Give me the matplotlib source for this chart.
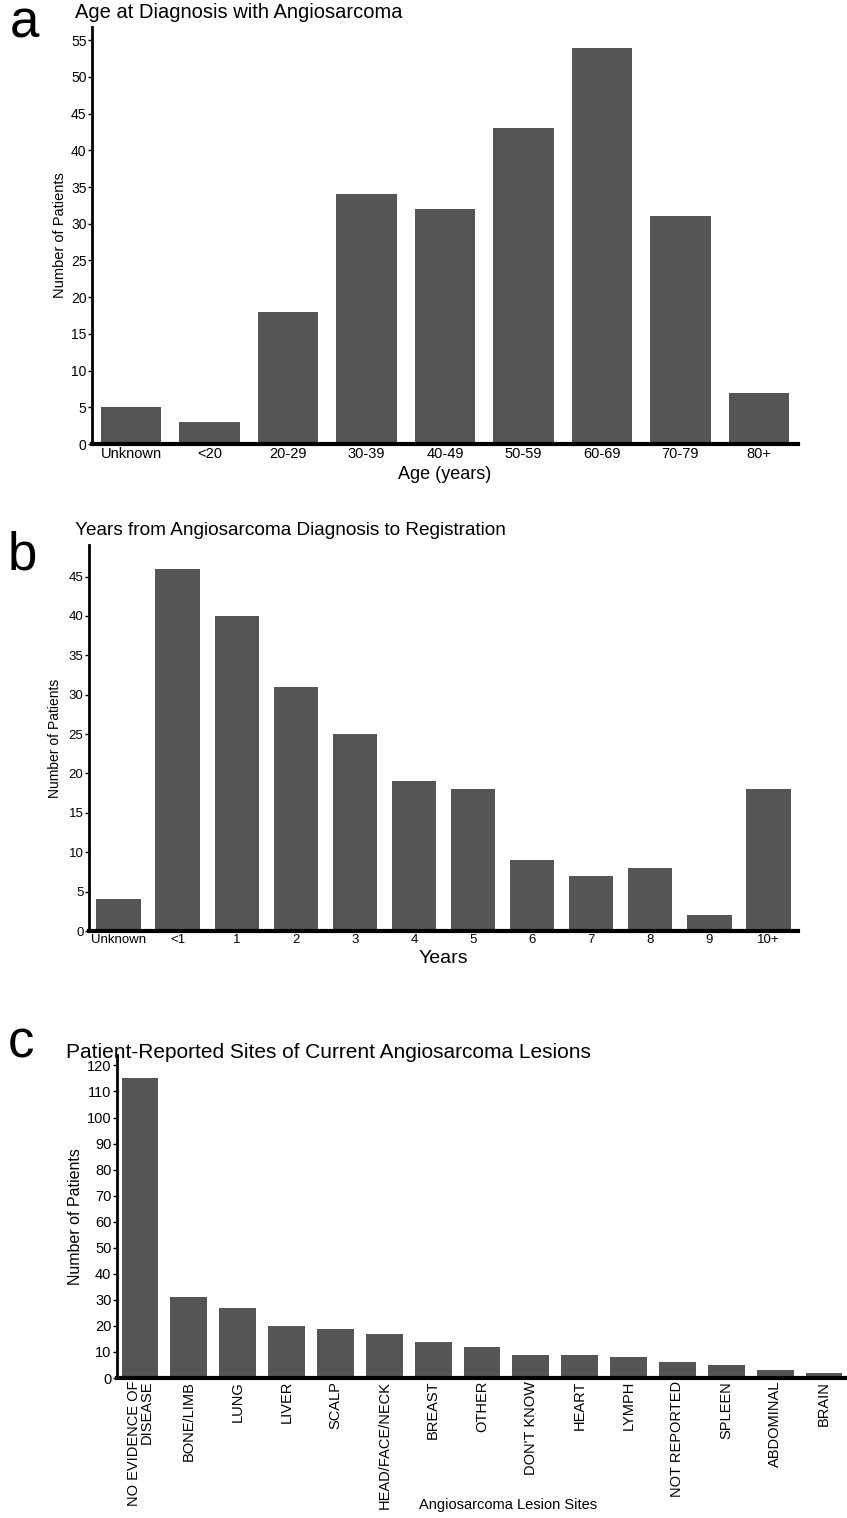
import matplotlib
matplotlib.use("Agg")
import matplotlib.pyplot as plt

plt.rcParams['font.family'] = ['Liberation Sans', 'DejaVu Sans']

age_groups = ['Unknown', '<20', '20-29', '30-39', '40-49', '50-59', '60-69', '70-79', '80+']
age_counts = [5, 3, 18, 34, 32, 43, 54, 31, 7]

year_groups = ['Unknown', '<1', '1', '2', '3', '4', '5', '6', '7', '8', '9', '10+']
year_counts = [4, 46, 40, 31, 25, 19, 18, 9, 7, 8, 2, 18]

sites = ['NO EVIDENCE OF\nDISEASE', 'BONE/LIMB', 'LUNG', 'LIVER', 'SCALP', 'HEAD/FACE/NECK',
         'BREAST', 'OTHER', "DON'T KNOW", 'HEART', 'LYMPH', 'NOT REPORTED', 'SPLEEN',
         'ABDOMINAL', 'BRAIN']
site_counts = [115, 31, 27, 20, 19, 17, 14, 12, 9, 9, 8, 6, 5, 3, 2]

W, H = 847, 1518
fig = plt.figure(figsize=(W / 100, H / 100), dpi=100)
bar_color = '#555555'


def box(x0, y0, x1, y1):
    # pixel box (top-left origin) -> figure fraction rect
    return [x0 / W, 1 - y1 / H, (x1 - x0) / W, (y1 - y0) / H]


def style(ax, ysize):
    for s in ['top', 'right']:
        ax.spines[s].set_visible(False)
    ax.spines['left'].set_linewidth(2)
    ax.spines['bottom'].set_linewidth(3)
    ax.tick_params(axis='y', length=3, width=1, pad=1, labelsize=ysize, colors='black')
    ax.tick_params(axis='x', length=0, pad=2)


# panel a
ax1 = fig.add_axes(box(92, 27, 798, 444))
ax1.bar(range(len(age_groups)), age_counts, width=0.77, color=bar_color)
ax1.set_xlim(-0.5, len(age_groups) - 0.5)
ax1.set_ylim(0, 56.8)
ax1.set_yticks(range(0, 56, 5))
ax1.set_xticks(range(len(age_groups)))
ax1.set_xticklabels(age_groups, fontsize=10.5)
ax1.set_xlabel('Age (years)', fontsize=13, labelpad=4)
ax1.set_ylabel('Number of Patients', fontsize=10.5, labelpad=3)
style(ax1, 10)

# panel b
ax2 = fig.add_axes(box(89, 545, 798, 931))
ax2.bar(range(len(year_groups)), year_counts, width=0.75, color=bar_color)
ax2.set_xlim(-0.5, len(year_groups) - 0.5)
ax2.set_ylim(0, 49)
ax2.set_yticks(range(0, 46, 5))
ax2.set_xticks(range(len(year_groups)))
ax2.set_xticklabels(year_groups, fontsize=9.5)
ax2.set_xlabel('Years', fontsize=14, labelpad=3)
ax2.set_ylabel('Number of Patients', fontsize=10, labelpad=5)
style(ax2, 9.5)

# panel c
ax3 = fig.add_axes(box(117, 1055, 847, 1378))
ax3.bar(range(len(sites)), site_counts, width=0.755, color=bar_color)
ax3.set_xlim(-0.47, len(sites) - 0.53)
ax3.set_ylim(0, 124)
ax3.set_yticks(range(0, 121, 10))
ax3.set_xticks(range(len(sites)))
ax3.set_xticklabels(sites, fontsize=10.5, rotation=90, va='top', ha='center',
                    multialignment='right', linespacing=0.9)
ax3.set_xlabel('Angiosarcoma Lesion Sites', fontsize=10.5)
ax3.xaxis.set_label_coords((508 - 117) / (847 - 117), -(1505 - 1378) / (1378 - 1055))
ax3.xaxis.label.set_va('center')
ax3.set_ylabel('Number of Patients', fontsize=11.5, labelpad=3)
style(ax3, 10.5)

# titles and panel letters
fig.text(75 / W, 1 - 12 / H, 'Age at Diagnosis with Angiosarcoma', fontsize=14.5, va='center')
fig.text(75 / W, 1 - 530 / H, 'Years from Angiosarcoma Diagnosis to Registration', fontsize=13.7, va='center')
fig.text(66 / W, 1 - 1053 / H, 'Patient-Reported Sites of Current Angiosarcoma Lesions', fontsize=15, va='center')
fig.text(10 / W, 1 - 24 / H, 'a', fontsize=38, va='center')
fig.text(8 / W, 1 - 555 / H, 'b', fontsize=38, va='center')
fig.text(8 / W, 1 - 1044 / H, 'c', fontsize=38, va='center')

fig.savefig('out.png', dpi=100)
